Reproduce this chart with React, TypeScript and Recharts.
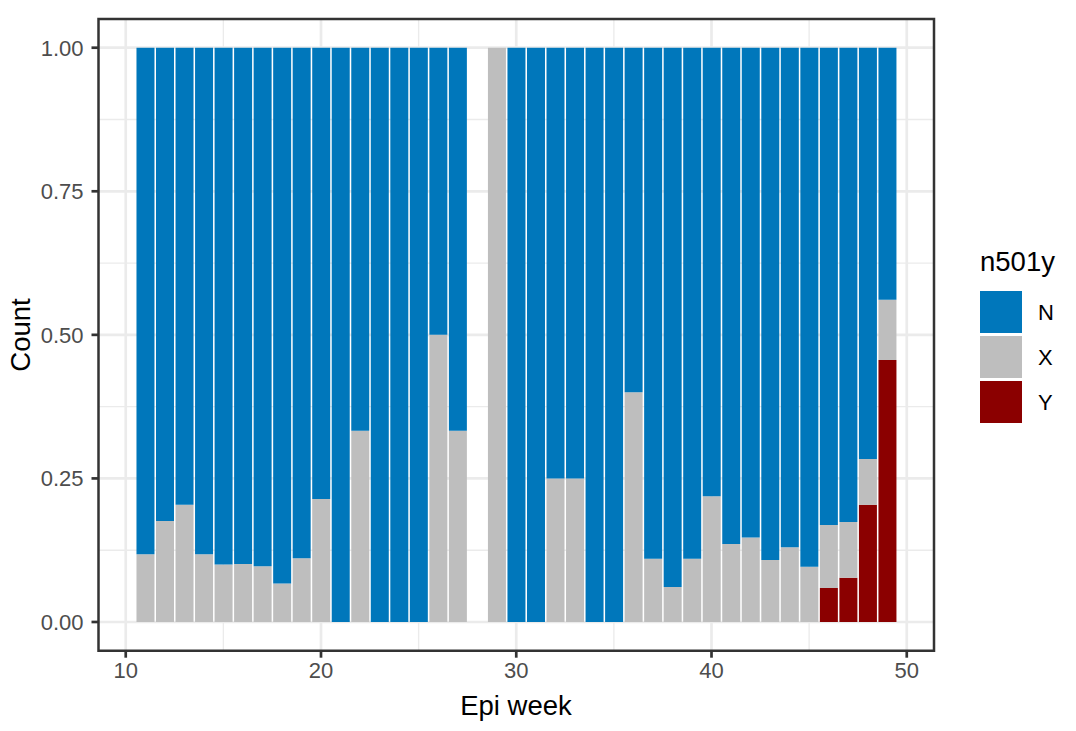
import React from 'react';
import { BarChart, Bar, XAxis, YAxis, CartesianGrid, ReferenceArea } from 'recharts';

const weeks = [11, 12, 13, 14, 15, 16, 17, 18, 19, 20, 21, 22, 23, 24, 25, 26, 27, 29, 30, 31, 32, 33, 34, 35, 36, 37, 38, 39, 40, 41, 42, 43, 44, 45, 46, 47, 48, 49];
const shareN = [0.882, 0.824, 0.796, 0.882, 0.9, 0.899, 0.903, 0.933, 0.889, 0.786, 1, 0.667, 1, 1, 1, 0.5, 0.667, 0, 1, 1, 0.75, 0.75, 1, 1, 0.6, 0.89, 0.939, 0.89, 0.781, 0.864, 0.853, 0.892, 0.87, 0.904, 0.831, 0.826, 0.716, 0.439];
const shareX = [0.118, 0.176, 0.204, 0.118, 0.1, 0.101, 0.097, 0.067, 0.111, 0.214, 0, 0.333, 0, 0, 0, 0.5, 0.333, 1, 0, 0, 0.25, 0.25, 0, 0, 0.4, 0.11, 0.061, 0.11, 0.219, 0.136, 0.147, 0.108, 0.13, 0.096, 0.11, 0.097, 0.08, 0.105];
const shareY = [0, 0, 0, 0, 0, 0, 0, 0, 0, 0, 0, 0, 0, 0, 0, 0, 0, 0, 0, 0, 0, 0, 0, 0, 0, 0, 0, 0, 0, 0, 0, 0, 0, 0, 0.059, 0.077, 0.204, 0.456];

const seriesNames = ['N', 'X', 'Y'];
const seriesColors = ['#0077BB', '#BEBEBE', '#8B0000'];
const xTicks = [10, 20, 30, 40, 50];
const xMinor = [15, 25, 35, 45];
const yTicks = [0, 0.25, 0.5, 0.75, 1];
const yMinor = [0.125, 0.375, 0.625, 0.875];

const data = weeks.map((w, i) => ({ week: w, N: shareN[i], X: shareX[i], Y: shareY[i] }));

const FONT = '"Liberation Sans", Arial, Helvetica, sans-serif';

export default function App() {
  return (
    <div style={{ position: 'absolute', left: 0, top: 0, width: 1076, height: 731, fontFamily: FONT, background: '#fff' }}>
      <BarChart
        width={1076}
        height={731}
        data={data}
        margin={{ top: 19, right: 142, bottom: 0, left: 0 }}
        barCategoryGap="5%"
      >
        <CartesianGrid
          verticalValues={xMinor}
          horizontalValues={yMinor}
          stroke="#EBEBEB"
          strokeWidth={1.35}
        />
        <CartesianGrid
          verticalValues={xTicks}
          horizontalValues={yTicks}
          stroke="#EBEBEB"
          strokeWidth={2.7}
        />
        <XAxis
          type="number"
          dataKey="week"
          domain={[8.605, 51.395]}
          allowDataOverflow
          ticks={xTicks}
          axisLine={false}
          tickLine={{ stroke: '#333333', strokeWidth: 2.7 }}
          tickSize={7}
          tickMargin={5}
          tick={{ fill: '#4D4D4D', fontSize: 22, fontFamily: FONT }}
          height={80.3}
        />
        <YAxis
          type="number"
          domain={[-0.05, 1.05]}
          allowDataOverflow
          ticks={yTicks}
          tickFormatter={(v: number) => v.toFixed(2)}
          axisLine={false}
          tickLine={{ stroke: '#333333', strokeWidth: 2.7 }}
          tickSize={7}
          tickMargin={8}
          tick={{ fill: '#4D4D4D', fontSize: 22, fontFamily: FONT }}
          width={98.5}
        />
        <Bar dataKey="Y" stackId="a" fill={seriesColors[2]} isAnimationActive={false} />
        <Bar dataKey="X" stackId="a" fill={seriesColors[1]} isAnimationActive={false} />
        <Bar dataKey="N" stackId="a" fill={seriesColors[0]} isAnimationActive={false} />
        <ReferenceArea
          x1={8.605}
          x2={51.395}
          y1={-0.05}
          y2={1.05}
          fill="none"
          stroke="#333333"
          strokeWidth={2.5}
          ifOverflow="visible"
        />
      </BarChart>
      <svg width={1076} height={731} style={{ position: 'absolute', left: 0, top: 0, pointerEvents: 'none' }}>
        <text x={516} y={705} textAnchor="middle" dy="0.35em" fontSize={27.5} fill="#000" fontFamily={FONT}>Epi week</text>
        <text x={20} y={335} textAnchor="middle" dy="0.35em" fontSize={27.5} fill="#000" fontFamily={FONT} transform="rotate(-90 20 335)">Count</text>
        <text x={980} y={271} fontSize={27.5} fill="#000" fontFamily={FONT}>n501y</text>
        {seriesNames.map((name, i) => (
          <g key={name}>
            <rect x={980} y={291 + i * 45} width={42} height={42} fill={seriesColors[i]} />
            <text x={1038} y={312 + i * 45} dy="0.35em" fontSize={22} fill="#000" fontFamily={FONT}>{name}</text>
          </g>
        ))}
      </svg>
    </div>
  );
}
